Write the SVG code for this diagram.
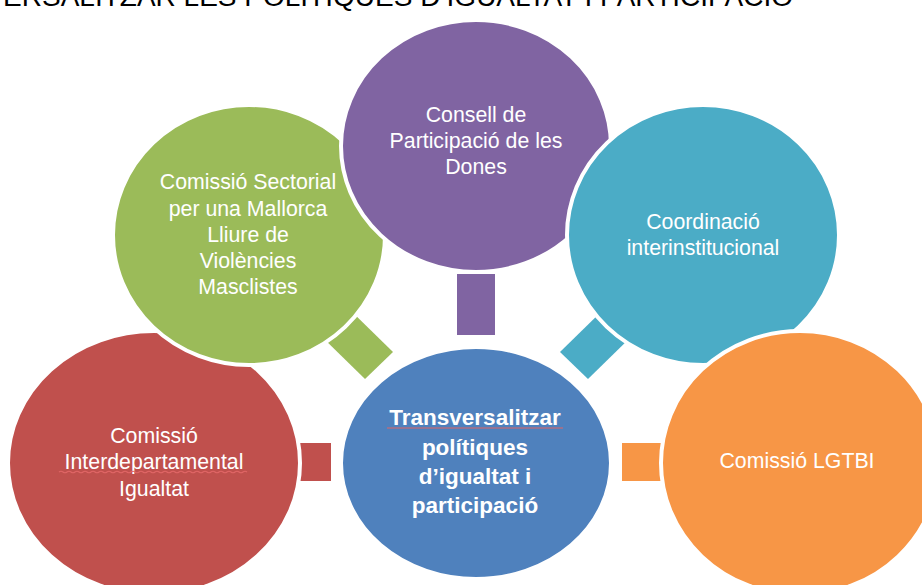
<svg xmlns="http://www.w3.org/2000/svg" width="922" height="585" viewBox="0 0 922 585">
<style>
.node{stroke:#fff;stroke-width:4}
.lbl{font-family:"Liberation Sans",Arial,sans-serif;font-size:21.3px;fill:#fff;text-anchor:middle}
.bold{font-weight:bold;font-size:22.5px}
.squig{stroke:#e06666;stroke-width:1.2;fill:none}
</style>
<rect width="922" height="585" fill="#fff"/>
<text x="793" y="6" font-family="'Liberation Sans',Arial,sans-serif" font-size="28" text-anchor="end" fill="#000">TRANSVERSALITZAR LES POLÍTIQUES D’IGUALTAT I PARTICIPACIÓ</text>
<g id="connectors">
  <rect x="457" y="274" width="38" height="61" fill="#8064A2"/>
  <polygon points="347,307 393,352 365,379 319,334" fill="#9BBB59"/>
  <polygon points="606,307 634,334 588,379 560,352" fill="#4BACC6"/>
  <rect x="292" y="443" width="39" height="38" fill="#C0504D"/>
  <rect x="622" y="443" width="42" height="38" fill="#F79646"/>
</g>
<g id="node-red">
  <ellipse class="node" cx="154" cy="463" rx="146" ry="132" fill="#C0504D"/>
  <text class="lbl" x="154" y="443">Comissió</text>
  <text class="lbl" x="154" y="469">Interdepartamental</text>
  <text class="lbl" x="154" y="496">Igualtat</text>
  <path class="squig" d="M59 472 q2 -1.5 4 0 t4 0 t4 0 t4 0 t4 0 t4 0 t4 0 t4 0 t4 0 t4 0 t4 0 t4 0 t4 0 t4 0 t4 0 t4 0 t4 0 t4 0 t4 0 t4 0 t4 0 t4 0 t4 0 t4 0 t4 0 t4 0 t4 0 t4 0 t4 0 t4 0 t4 0 t4 0 t4 0 t4 0 t4 0 t4 0 t4 0 t4 0 t4 0 t4 0 t4 0 t4 0 t4 0 t4 0 t4 0 t4 0 t4 0"/>
</g>
<g id="node-green">
  <ellipse class="node" cx="249" cy="235" rx="136" ry="130" fill="#9BBB59"/>
  <text class="lbl" x="248" y="189">Comissió Sectorial</text>
  <text class="lbl" x="248" y="216">per una Mallorca</text>
  <text class="lbl" x="248" y="242">Lliure de</text>
  <text class="lbl" x="248" y="268">Violències</text>
  <text class="lbl" x="248" y="294">Masclistes</text>
</g>
<g id="node-purple">
  <ellipse class="node" cx="476" cy="146" rx="135" ry="126" fill="#8064A2"/>
  <text class="lbl" x="476" y="122">Consell de</text>
  <text class="lbl" x="476" y="148">Participació de les</text>
  <text class="lbl" x="476" y="174">Dones</text>
</g>
<g id="node-teal">
  <ellipse class="node" cx="703" cy="235" rx="136" ry="130" fill="#4BACC6"/>
  <text class="lbl" x="703" y="229">Coordinació</text>
  <text class="lbl" x="703" y="255">interinstitucional</text>
</g>
<g id="node-orange">
  <ellipse class="node" cx="800" cy="463" rx="139" ry="132" fill="#F79646"/>
  <text class="lbl" x="797" y="468">Comissió LGTBI</text>
</g>
<g id="node-center">
  <ellipse class="node" cx="476" cy="463" rx="135" ry="116" fill="#4F81BD"/>
  <text class="lbl bold" x="475" y="425">Transversalitzar</text>
  <path class="squig" d="M387 428 L563 428"/>
  <text class="lbl bold" x="475" y="455">polítiques</text>
  <text class="lbl bold" x="475" y="484">d’igualtat i</text>
  <text class="lbl bold" x="475" y="513">participació</text>
</g>
</svg>
